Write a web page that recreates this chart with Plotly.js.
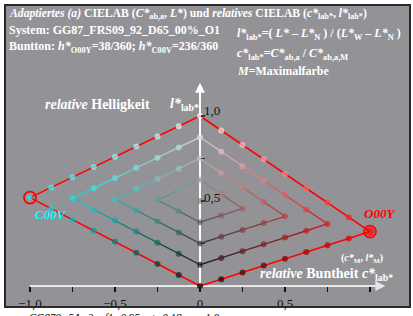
<!DOCTYPE html>
<html>
<head>
<meta charset="utf-8">
<script src="https://cdn.plot.ly/plotly-3.0.1.min.js"></script>
<style>html,body{margin:0;padding:0;background:#fff;}#chart{width:413px;height:316px;}</style>
</head>
<body>
<div id="chart"></div>
<script>
// ---- data ----
const hueNames = ['O00Y', 'C00V'];
const maxChroma = [1.0, -1.0];          // c*lab* of the maximal colour
const maxLightness = [0.32, 0.52];      // l*lab* of the maximal colour
const maxColors = [[255, 0, 0], [0, 255, 255]];
const labelColors = ['#ff0000', '#00ffff'];
const steps = 8;                         // grid divisions of each hue triangle
const xTickVals = [-1, -0.5, 0, 0.5];
const xTickText = ['\u22121,0', '\u22120,5', '0', '0,5'];
const xMinorTickVals = [-0.75, -0.25, 0.25, 0.75, 1.0];
const yTickVals = [0.25, 0.5, 0.75, 1.0];
const yTickText = ['', '0,5', '', '1,0'];

// ---- helpers ----
function pt(h, a, b, c) {
  return {
    x: c / steps * maxChroma[h],
    y: (a + c * maxLightness[h]) / steps,
    rgb: [0, 1, 2].map(i => (a * 255 + c * maxColors[h][i]) / steps)
  };
}
const css = v => 'rgb(' + v.map(Math.round).join(',') + ')';

const traces = [];
const redEdges = [];
for (let h = 0; h < hueNames.length; h++) {
  for (let k = 0; k < steps / 2; k++) {
    const apex = steps - 2 * k;
    const arm = [];
    for (let c = 0; c <= apex; c++) arm.push([steps - k - c, k, c]);
    for (let c = apex - 1; c >= 0; c--) arm.push([k, steps - k - c, c]);
    const pts = arm.map(p => pt(h, p[0], p[1], p[2]));
    if (k === 0) {
      redEdges.push({type: 'scatter', mode: 'lines', x: pts.map(p => p.x), y: pts.map(p => p.y),
        line: {color: '#ff0000', width: 1.6}, hoverinfo: 'skip', showlegend: false});
    } else {
      for (let i = 0; i < pts.length - 1; i++) {
        const col = pts[i].rgb.map((v, j) => (v + pts[i + 1].rgb[j]) / 2 * 0.92);
        traces.push({type: 'scatter', mode: 'lines', x: [pts[i].x, pts[i + 1].x], y: [pts[i].y, pts[i + 1].y],
          line: {color: css(col), width: 1.4}, hoverinfo: 'skip', showlegend: false});
      }
    }
  }
}
traces.push(...redEdges);
// maximal colour rings
traces.push({type: 'scatter', mode: 'markers', x: maxChroma, y: maxLightness,
  marker: {symbol: 'circle-open', size: 12, color: '#ff0000', line: {width: 1.8, color: '#ff0000'}},
  hoverinfo: 'skip', showlegend: false});
// all grid points
for (let h = 0; h < hueNames.length; h++) {
  const xs = [], ys = [], cs = [], ss = [];
  for (let a = 0; a <= steps; a++) for (let b = 0; a + b <= steps; b++) {
    const c = steps - a - b;
    if (c === 0 && h === 1) continue;
    const p = pt(h, a, b, c);
    xs.push(p.x); ys.push(p.y); cs.push(css(p.rgb));
    ss.push(c === steps ? (h === 0 ? 9 : 5) : 6);
  }
  traces.push({type: 'scatter', mode: 'markers', x: xs, y: ys,
    marker: {size: ss, color: cs, line: {width: 0}}, hoverinfo: 'skip', showlegend: false});
}

// pixel mapping: plot area 405 x 302 px, 170 px per unit
const xr = [-195 / 170, 210 / 170];
const yr = [-21 / 170, 281 / 170];
const serif = 'Liberation Serif, Times New Roman, serif';
const W = '#ffffff';
function ann(x, y, text, size, color, extra) {
  return Object.assign({x: x, y: y, xref: 'x', yref: 'y', text: text, showarrow: false,
    xanchor: 'left', yanchor: 'middle', font: {family: serif, size: size, color: color}}, extra || {});
}
const annotations = [
  ann(-1.135, 1.60, '<b><i>Adaptiertes (a)</i> CIELAB (<i>C*</i><sub>ab,a</sub>, <i>L*</i>) und <i>relatives</i> CIELAB (<i>c*</i><sub>lab*</sub>, <i>l*</i><sub>lab*</sub>)</b>', 11.7, W),
  ann(-1.135, 1.503, '<b>System: GG87_FRS09_92_D65_00%_O1</b>', 12, W),
  ann(-1.135, 1.405, '<b>Buntton: <i>h*</i><sub>O00Y</sub>=38/360; <i>h*</i><sub>C00V</sub>=236/360</b>', 12, W),
  ann(0.205, 1.48, '<b><i>l*</i><sub>lab*</sub>=( <i>L*</i> \u2013 <i>L*</i><sub>N</sub> ) / (<i>L*</i><sub>W</sub> \u2013 <i>L*</i><sub>N</sub> )</b>', 12, W),
  ann(0.205, 1.365, '<b><i>c*</i><sub>lab*</sub>=<i>C*</i><sub>ab,a</sub> / <i>C*</i><sub>ab,a,M</sub></b>', 12, W),
  ann(0.205, 1.265, '<b><i>M</i>=Maximalfarbe</b>', 12, W),
  ann(-0.925, 1.065, '<b><i>relative</i> Helligkeit</b>', 14, W),
  ann(-0.19, 1.065, '<b><i>l*</i><sub>lab*</sub></b>', 14, W),
  ann(-0.985, 0.42, '<b><i>' + hueNames[1] + '</i></b>', 13, labelColors[1]),
  ann(0.955, 0.425, '<b><i>' + hueNames[0] + '</i></b>', 13, labelColors[0]),
  ann(0.82, 0.162, '<b>(<i>c*</i><sub>M</sub>, <i>l*</i><sub>M</sub>)</b>', 10, W),
  ann(0.34, 0.07, '<b><i>relative</i> Buntheit <i>c*</i><sub>lab*</sub></b>', 14, W),
  ann(0, yTickVals[3], yTickText[3], 13, '#111', {yanchor: 'bottom', xshift: 2, yshift: -4}),
  ann(0, yTickVals[1], yTickText[1], 13, '#111', {yanchor: 'bottom', xshift: 2, yshift: -6}),
  {xref: 'paper', yref: 'paper', x: 0.055, y: -0.005, text: '<i>CG870\u22125A\u22122; cf1=0.95; nt=0.18; nr=1.0</i>',
   showarrow: false, xanchor: 'left', yanchor: 'top', font: {family: serif, size: 11, color: '#000'}},
  // arrow heads of the axes
  {x: 1.09, y: 0, ax: 1.0, ay: 0, xref: 'x', yref: 'y', axref: 'x', ayref: 'y', text: '', showarrow: true,
   arrowhead: 2, arrowsize: 1, arrowwidth: 2, arrowcolor: '#e6e6e6'},
  {x: 0, y: 1.195, ax: 0, ay: 1.1, xref: 'x', yref: 'y', axref: 'x', ayref: 'y', text: '', showarrow: true,
   arrowhead: 2, arrowsize: 1, arrowwidth: 2, arrowcolor: '#ffffff'}
];

const layout = {
  width: 413, height: 316,
  margin: {l: 5, r: 3, t: 5, b: 9, pad: 0},
  paper_bgcolor: '#ffffff', plot_bgcolor: '#939397',
  showlegend: false,
  xaxis: {range: xr, showgrid: false, zeroline: false, showline: false, fixedrange: true,
    anchor: 'free', position: (0 - yr[0]) / (yr[1] - yr[0]),
    tickmode: 'array', tickvals: xTickVals, ticktext: xTickText, ticks: 'outside', ticklen: 5, tickwidth: 1.5, tickcolor: '#111',
    minor: {tickmode: 'array', tickvals: xMinorTickVals, ticks: 'outside', ticklen: 5, tickwidth: 1.5, tickcolor: '#111', showgrid: false},
    tickfont: {family: serif, size: 13, color: '#111'}},
  yaxis: {range: yr, showgrid: false, zeroline: false, showline: false, fixedrange: true,
    anchor: 'free', position: (0 - xr[0]) / (xr[1] - xr[0]), side: 'right',
    tickmode: 'array', tickvals: yTickVals, showticklabels: false, ticks: 'outside', ticklen: 4, tickwidth: 1.5, tickcolor: '#333'},
  shapes: [
    {type: 'line', xref: 'x', yref: 'y', x0: -1, y0: 0, x1: 1.05, y1: 0, layer: 'below', line: {color: '#e6e6e6', width: 2}},
    {type: 'line', xref: 'x', yref: 'y', x0: 0, y0: 0, x1: 0, y1: 1.15, layer: 'below', line: {color: '#ffffff', width: 2}},
    {type: 'rect', xref: 'paper', yref: 'paper', x0: 0, y0: 0, x1: 1, y1: 1, line: {color: '#2a2a2a', width: 2}}
  ],
  annotations: annotations
};
Plotly.newPlot('chart', traces, layout, {staticPlot: true, displayModeBar: false});
</script>
</body>
</html>
